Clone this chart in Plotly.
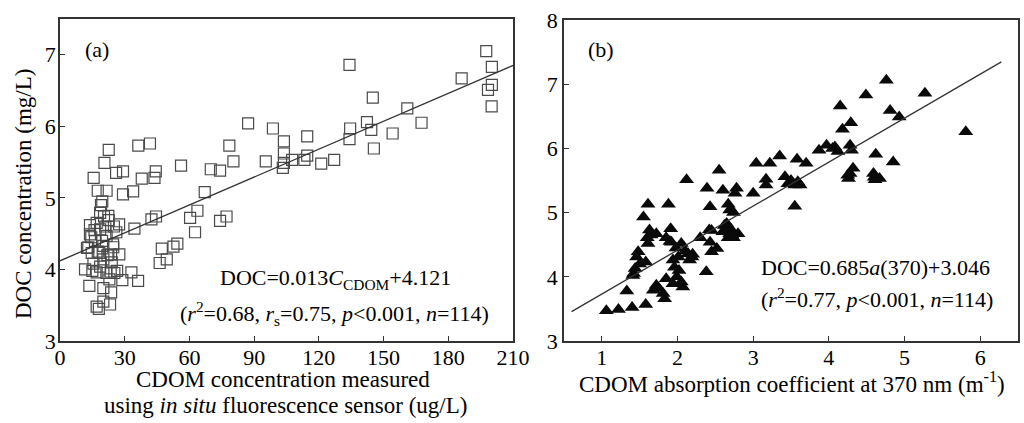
import plotly.graph_objects as go
import numpy as np

# panel (a): in situ fluorescence CDOM (ug/L) vs DOC (mg/L)
cdom_conc = [
    197.6, 200.2, 200.2, 198.4, 200.1, 186.2, 161.0, 167.6, 154.2, 145.0,
    142.3, 144.3, 145.5, 134.2, 134.5, 134.2, 127.1, 121.1, 114.6, 114.6,
    113.3, 107.6, 103.8, 103.8, 103.8, 103.3, 98.7, 95.4, 87.2, 80.4,
    78.5, 77.2, 74.2, 74.2, 69.9, 67.1, 63.7, 62.6, 60.3, 56.1,
    54.4, 52.6, 49.5, 46.2, 47.2, 44.5, 42.4, 44.4, 43.8, 41.7,
    36.3, 37.9, 33.9, 34.5, 33.1, 36.2, 28.9, 29.2, 29.2, 27.4,
    26.0, 27.5, 22.6, 20.6, 21.6, 17.5, 15.6, 19.6, 20.4, 22.6,
    26.1, 24.6, 23.7, 23.5, 25.2, 22.9, 11.6, 13.9, 13.9, 13.1,
    15.5, 17.0, 13.6, 20.1, 20.1, 17.0, 23.2, 23.7, 18.2, 16.2,
    18.6, 21.6, 20.1, 17.0, 18.6, 22.4, 18.6, 20.1, 14.7, 24.7,
    19.0, 16.0, 21.0, 25.0, 12.5, 17.5, 19.5, 22.0, 15.0, 24.0,
    18.0, 26.5, 14.5, 21.5,
]
doc_a = [
    7.05, 6.83, 6.58, 6.51, 6.28, 6.67, 6.25, 6.05, 5.90, 6.40,
    6.06, 5.95, 5.69, 6.86, 5.97, 5.82, 5.53, 5.48, 5.86, 5.59,
    5.53, 5.53, 5.79, 5.62, 5.49, 5.42, 5.97, 5.51, 6.04, 5.51,
    5.73, 4.74, 4.68, 5.38, 5.40, 5.08, 4.82, 4.52, 4.72, 5.45,
    4.36, 4.32, 4.14, 4.09, 4.29, 4.74, 4.70, 5.37, 5.28, 5.76,
    5.73, 5.27, 5.09, 4.57, 3.96, 3.84, 3.85, 5.05, 5.37, 4.63,
    5.35, 4.21, 5.67, 5.49, 5.10, 5.10, 5.28, 4.95, 4.74, 4.69,
    4.52, 4.35, 4.21, 3.97, 3.95, 3.86, 4.00, 4.62, 4.49, 4.31,
    4.08, 3.96, 3.77, 3.74, 3.55, 3.48, 3.51, 3.68, 4.23, 4.40,
    4.56, 4.47, 4.14, 4.65, 4.79, 4.75, 4.04, 4.33, 4.23, 4.31,
    4.90, 4.55, 4.60, 4.60, 4.30, 4.25, 4.40, 4.20, 3.98, 4.10,
    3.45, 3.98, 4.45, 3.95,
]

# panel (b): a(370) (m^-1) vs DOC (mg/L)
a370 = [
    1.06, 1.22, 1.40, 1.33, 1.41, 1.44, 1.46, 1.48, 1.58, 1.58,
    1.55, 1.61, 1.63, 1.61, 1.60, 1.72, 1.68, 1.72, 1.81, 1.83,
    1.85, 1.88, 1.91, 1.85, 1.92, 1.94, 1.96, 1.99, 2.05, 2.07,
    1.94, 2.01, 2.05, 2.12, 2.14, 2.19, 2.16, 2.30, 2.38, 2.39,
    2.43, 2.42, 2.43, 2.45, 2.52, 2.55, 2.60, 2.67, 2.69, 2.74,
    2.63, 2.65, 2.69, 2.74, 2.78, 2.76, 2.67, 2.80, 3.00, 3.04,
    3.17, 3.17, 3.22, 3.35, 3.42, 3.46, 3.55, 3.55, 3.58, 3.59,
    3.62, 3.70, 3.87, 3.97, 4.08, 4.12, 4.15, 4.18, 4.29, 4.28,
    4.30, 4.32, 4.28, 4.26, 4.49, 4.62, 4.59, 4.61, 4.67, 4.76,
    4.81, 4.85, 4.93, 5.27, 5.81,
    1.50, 1.65, 1.75, 1.90, 1.98, 2.02, 2.10, 2.20, 2.45, 2.60,
    2.70, 2.72, 3.50, 3.60, 4.05, 4.25, 4.60, 1.42, 2.62,
]
doc_b = [
    3.47, 3.49, 3.52, 3.78, 4.02, 4.13, 4.31, 4.39, 4.23, 3.57,
    4.93, 5.13, 4.73, 4.52, 4.61, 4.67, 3.79, 3.87, 3.74, 3.66,
    3.97, 5.13, 4.75, 4.61, 4.54, 4.26, 4.15, 4.00, 3.92, 3.84,
    3.89, 4.31, 4.52, 5.51, 4.36, 4.31, 4.26, 4.61, 4.08, 5.38,
    5.09, 4.73, 4.54, 4.39, 4.44, 5.66, 5.35, 5.13, 5.04, 5.00,
    4.74, 4.83, 4.67, 4.61, 5.38, 5.30, 4.61, 4.67, 5.30, 5.77,
    5.52, 5.43, 5.77, 5.88, 5.56, 5.45, 5.43, 5.10, 5.83, 5.48,
    5.43, 5.77, 5.97, 6.05, 6.02, 5.95, 6.66, 6.30, 6.40, 6.05,
    5.97, 5.69, 5.61, 5.53, 6.83, 5.91, 5.61, 5.51, 5.53, 7.06,
    6.59, 5.79, 6.49, 6.86, 6.26,
    4.20, 4.65, 3.82, 4.55, 4.45, 4.10, 4.40, 4.35, 4.72, 4.70,
    4.75, 4.65, 5.50, 5.45, 6.00, 5.58, 5.55, 4.05, 4.80,
]

# regression fits (slope, intercept, x extent)
fit_a = (0.013, 4.121)
fit_a_x = [0, 210]
fit_b = (0.685, 3.046)
fit_b_x = [0.6, 6.28]

FONT = "Liberation Serif, Times New Roman, serif"
LINE = "#333333"

fig = go.Figure()

fig.add_trace(go.Scatter(
    x=cdom_conc, y=doc_a, mode="markers",
    marker=dict(symbol="square-open", size=11, color="#4a4a4a",
                line=dict(width=1.2)),
    xaxis="x", yaxis="y", showlegend=False,
))
xa = np.array(fit_a_x)
fig.add_trace(go.Scatter(
    x=xa, y=fit_a[0] * xa + fit_a[1], mode="lines",
    line=dict(color=LINE, width=1.3),
    xaxis="x", yaxis="y", showlegend=False,
))

fig.add_trace(go.Scatter(
    x=a370, y=doc_b, mode="markers",
    marker=dict(symbol="triangle-up", size=13, color="#0a0a0a"),
    xaxis="x2", yaxis="y2", showlegend=False,
))
xb = np.array(fit_b_x)
fig.add_trace(go.Scatter(
    x=xb, y=fit_b[0] * xb + fit_b[1], mode="lines",
    line=dict(color=LINE, width=1.3),
    xaxis="x2", yaxis="y2", showlegend=False,
))

axis_common = dict(
    showline=True, linecolor=LINE, linewidth=1.5, mirror=True,
    ticks="inside", ticklen=5, tickcolor=LINE, tickwidth=1.2,
    showgrid=False, zeroline=False, automargin=False,
    tickfont=dict(family=FONT, size=22, color="black"),
)

fig.update_layout(
    width=1024, height=423,
    margin=dict(l=0, r=0, t=0, b=0),
    plot_bgcolor="white", paper_bgcolor="white",
    font=dict(family=FONT, size=22, color="black"),
    xaxis=dict(axis_common, domain=[60 / 1024, 513 / 1024], range=[0, 210],
               tickvals=list(range(0, 211, 30)), anchor="y",
               ticklabelstandoff=-4),
    yaxis=dict(axis_common, domain=[1 - 341 / 423, 1 - 19 / 423], range=[3, 7.5],
               tickvals=[3, 4, 5, 6, 7], anchor="x", ticklabelstandoff=-2),
    xaxis2=dict(axis_common, domain=[564 / 1024, 1018 / 1024], range=[0.5, 6.5],
                tickvals=[1, 2, 3, 4, 5, 6], anchor="y2",
                ticklabelstandoff=-4),
    yaxis2=dict(axis_common, domain=[1 - 341 / 423, 1 - 20 / 423], range=[3, 8],
                tickvals=[3, 4, 5, 6, 7, 8], anchor="x2"),
)

def note(text, x, y, size=22, **kw):
    fig.add_annotation(
        text=text, x=x / 1024, y=1 - y / 423, xref="paper", yref="paper",
        xanchor="center", yanchor="middle", showarrow=False,
        font=dict(family=FONT, size=size, color="black"), **kw
    )

note("(a)", 97, 50)
note("(b)", 601, 49)
note("DOC=0.013<i>C</i><sub>CDOM</sub>+4.121", 335, 279)
note("(<i>r</i><sup>2</sup>=0.68, <i>r</i><sub>s</sub>=0.75, <i>p</i>&lt;0.001, <i>n</i>=114)", 334, 313)
note("DOC=0.685<i>a</i>(370)+3.046", 875, 267)
note("(<i>r</i><sup>2</sup>=0.77, <i>p</i>&lt;0.001, <i>n</i>=114)", 877, 298)
note("DOC concentration (mg/L)", 23, 194, size=23, textangle=-90)
note("CDOM concentration measured", 283, 379, size=23)
note("using <i>in situ</i> fluorescence sensor (ug/L)", 285, 405, size=23)
note("CDOM absorption coefficient at 370 nm (m<sup>-1</sup>)", 792, 382, size=23)

fig.write_html(
    "out.html",
    config={"displayModeBar": False},
    post_script="document.body.style.margin='0px';",
)
